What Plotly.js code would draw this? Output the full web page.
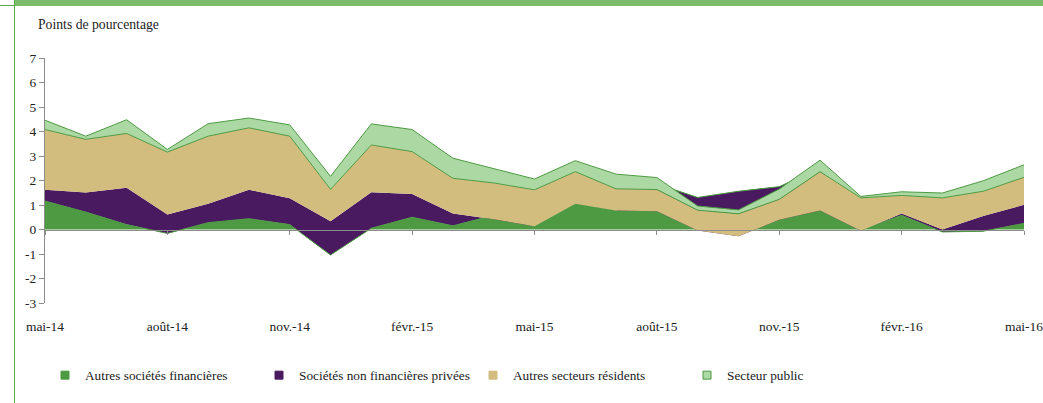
<!DOCTYPE html>
<html>
<head>
<meta charset="utf-8">
<script src="https://cdn.plot.ly/plotly-3.0.1.min.js"></script>
<style>
  html, body { margin: 0; padding: 0; background: #ffffff; }
  #wrap { position: relative; width: 1043px; height: 403px; overflow: hidden; }
  #topbar { position: absolute; left: 14px; top: 0; width: 1029px; height: 6px; background: #7dbb6c; }
  #topline { position: absolute; left: 0; top: 5px; width: 15px; height: 1px; background: #5ca94c; }
  #leftline { position: absolute; left: 14px; top: 0; width: 1px; height: 403px; background: #5ca94c; }
  #chart { position: absolute; left: 0; top: 0; width: 1043px; height: 403px; }
</style>
</head>
<body>
<div id="wrap">
  <div id="topbar"></div>
  <div id="topline"></div>
  <div id="leftline"></div>
  <div id="chart"></div>
</div>
<script>
// Months (categories)
const months = ['mai-14','juin-14','juil.-14','août-14','sept.-14','oct.-14','nov.-14','déc.-14',
  'janv.-15','févr.-15','mars-15','avr.-15','mai-15','juin-15','juil.-15','août-15','sept.-15',
  'oct.-15','nov.-15','déc.-15','janv.-16','févr.-16','mars-16','avr.-16','mai-16'];

// Tick labels shown on the x axis
const tickMonths = ['mai-14','août-14','nov.-14','févr.-15','mai-15','août-15','nov.-15','févr.-16','mai-16'];

// Y axis ticks
const yTickVals = [-3, -2, -1, 0, 1, 2, 3, 4, 5, 6, 7];
const yTickText = ['-3', '-2', '-1', '0', '1', '2', '3', '4', '5', '6', '7'];

// Series (contributions, percentage points)
const autresSocFin = [1.16, 0.71, 0.20, -0.16, 0.28, 0.44, 0.20, -1.04, 0.05, 0.50, 0.15, 0.58, 0.13,
  1.05, 0.78, 1.86, 1.31, 1.56, 1.75, 2.50, -0.03, 0.58, -0.10, -0.07, 0.25];
const socNonFin = [0.46, 0.80, 1.50, 0.77, 0.77, 1.18, 1.08, 1.38, 1.47, 0.95, 0.50, -0.16, 0.00,
  0.00, 0.00, -1.11, -1.35, -1.84, -1.35, -1.72, -0.02, 0.07, 0.10, 0.62, 0.76];
const autresSecteurs = [2.46, 2.17, 2.22, 2.55, 2.76, 2.53, 2.53, 1.30, 1.93, 1.73, 1.44, 1.48, 1.49,
  1.31, 0.88, 0.88, 0.83, 0.92, 0.83, 1.58, 1.34, 0.74, 1.29, 1.01, 1.12];
const secteurPublic = [0.38, 0.13, 0.56, 0.11, 0.51, 0.40, 0.46, 0.53, 0.86, 0.90, 0.82, 0.59, 0.44,
  0.45, 0.60, 0.49, 0.17, 0.16, 0.42, 0.47, 0.06, 0.15, 0.20, 0.43, 0.51];

const seriesNames = ['Autres sociétés financières', 'Sociétés non financières privées',
  'Autres secteurs résidents', 'Secteur public'];

const cGreen = '#4e9a43', cPurple = '#4a1a60', cTan = '#d2bd7e', cLight = '#acd8a4';
const FONT = "'Liberation Serif', 'Times New Roman', serif";

const traces = [
  {x: months, y: autresSocFin, type: 'scatter', mode: 'lines', stackgroup: 's',
   line: {color: cGreen, width: 1}, fillcolor: cGreen, showlegend: false, hoverinfo: 'skip'},
  {x: months, y: socNonFin, type: 'scatter', mode: 'lines', stackgroup: 's',
   line: {color: cPurple, width: 0}, fillcolor: cPurple, showlegend: false, hoverinfo: 'skip'},
  {x: months, y: autresSecteurs, type: 'scatter', mode: 'lines', stackgroup: 's',
   line: {color: cGreen, width: 1}, fillcolor: cTan, showlegend: false, hoverinfo: 'skip'},
  {x: months, y: secteurPublic, type: 'scatter', mode: 'lines', stackgroup: 's',
   line: {color: cGreen, width: 1}, fillcolor: cLight, showlegend: false, hoverinfo: 'skip'},
  // invisible trace carrying the zero-line axis
  {x: months, y: months.map(() => null), xaxis: 'x2', type: 'scatter', mode: 'lines',
   showlegend: false, hoverinfo: 'skip'}
];

// legend entries
const legendColors = [cGreen, cPurple, cTan, cLight];
const legendLines = [cGreen, cPurple, cTan, cGreen];
seriesNames.forEach((n, i) => {
  traces.push({x: [null], y: [null], type: 'scatter', mode: 'markers', name: n,
    marker: {symbol: 'square', size: 8, color: legendColors[i], line: {color: legendLines[i], width: 1}},
    showlegend: true, hoverinfo: 'skip'});
});

const layout = {
  width: 1043, height: 403,
  margin: {l: 45, r: 19, t: 58, b: 97},
  paper_bgcolor: 'rgba(0,0,0,0)',
  plot_bgcolor: 'rgba(0,0,0,0)',
  font: {family: FONT, size: 13, color: '#222222'},
  showlegend: true,
  xaxis: {
    type: 'category', range: [0, 24],
    tickvals: tickMonths, ticktext: tickMonths,
    showgrid: false, zeroline: false, showline: false, ticks: '',
    tickfont: {family: FONT, size: 13.5, color: '#222222'},
    ticklabelstandoff: 13, fixedrange: true
  },
  xaxis2: {
    type: 'category', overlaying: 'x', anchor: 'free', position: 0.3, side: 'bottom',
    range: [0, 24], tickvals: tickMonths, showticklabels: false,
    showgrid: false, zeroline: false, showline: true, linecolor: '#8c8c8c', linewidth: 1,
    ticks: 'outside', ticklen: 4, tickcolor: '#8c8c8c', layer: 'above traces'
  },
  yaxis: {
    range: [-3, 7], tickvals: yTickVals, ticktext: yTickText,
    showgrid: false, zeroline: false, showline: true, linecolor: '#8c8c8c', linewidth: 1,
    ticks: 'outside', ticklen: 5, tickcolor: '#8c8c8c',
    tickfont: {family: FONT, size: 13.5, color: '#222222'}, fixedrange: true
  },
  legend: {
    orientation: 'h', traceorder: 'normal', x: 0.0, xanchor: 'left', y: -0.296, yanchor: 'middle',
    entrywidth: 169, entrywidthmode: 'pixels', itemwidth: 30,
    font: {family: FONT, size: 13.3, color: '#222222'}, bgcolor: 'rgba(0,0,0,0)'
  },
  annotations: [{
    text: 'Points de pourcentage', xref: 'paper', yref: 'paper',
    x: -0.0092, xanchor: 'left', y: 1.136, yanchor: 'middle', showarrow: false,
    font: {family: FONT, size: 13.7, color: '#222222'}
  }]
};

Plotly.newPlot('chart', traces, layout, {displayModeBar: false, staticPlot: true});
</script>
</body>
</html>
